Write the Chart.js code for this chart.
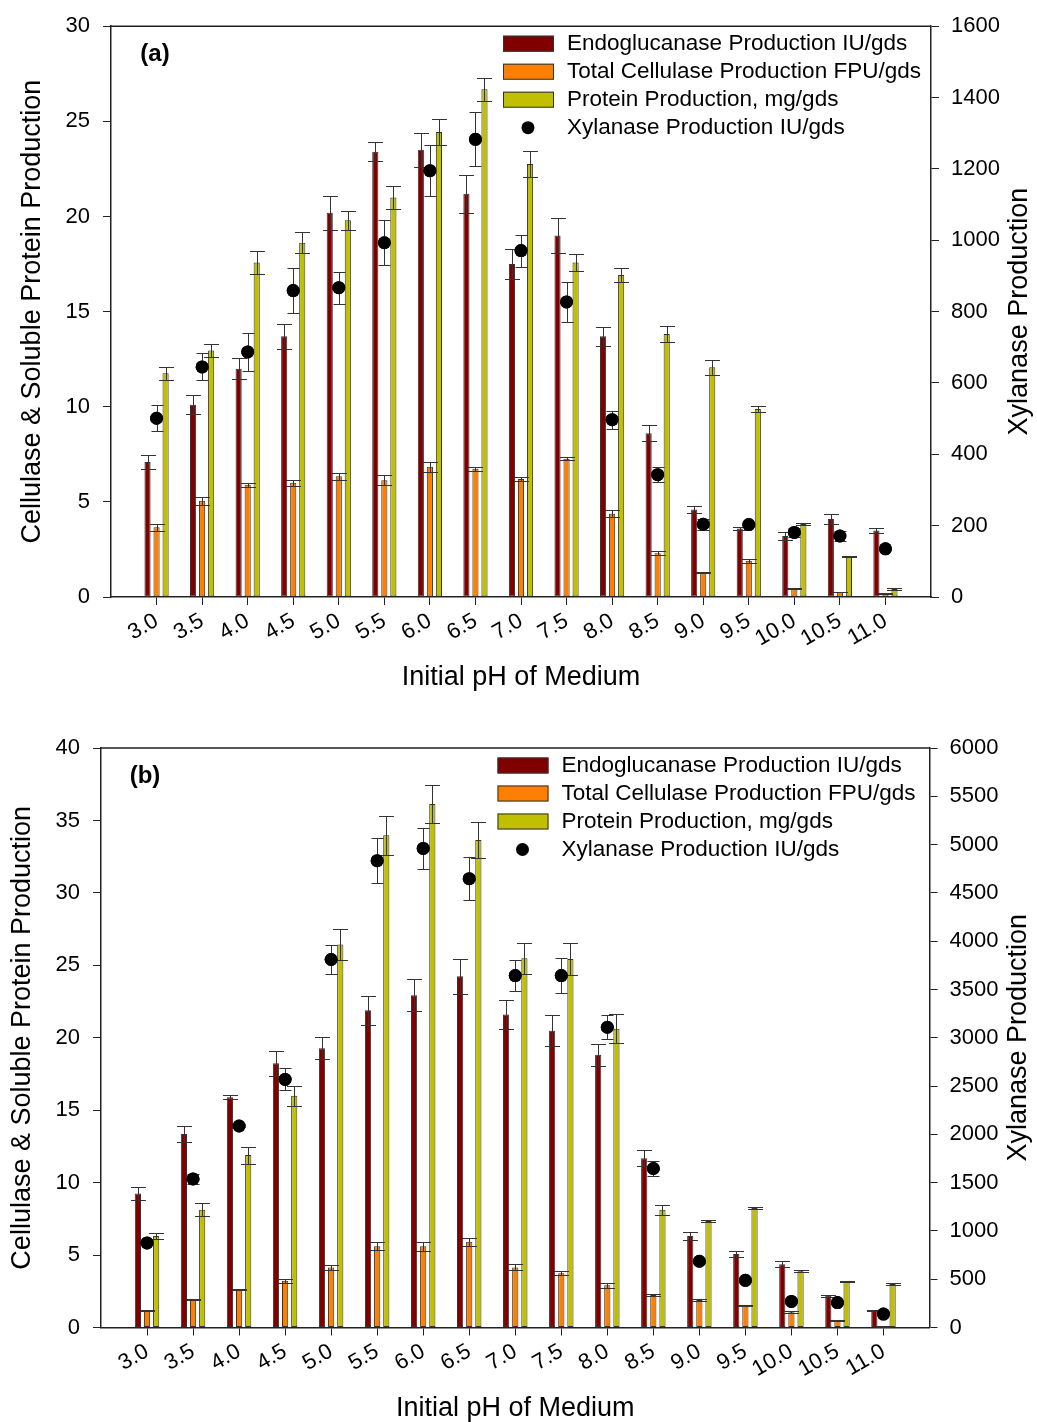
<!DOCTYPE html>
<html>
<head>
<meta charset="utf-8">
<title>Effect of initial pH on enzyme production</title>
<script src="https://cdn.jsdelivr.net/npm/chart.js@4.4.1/dist/chart.umd.min.js"></script>
<style>
  body { margin: 0; background: #fff; }
  .panel { width: 1037px; height: 711px; }
</style>
</head>
<body>
<div class="panel"><canvas id="chartA" width="1037" height="711"></canvas></div>
<div class="panel"><canvas id="chartB" width="1037" height="711"></canvas></div>
<script>
// initial pH levels on the x axis
const phLevels = [3.0, 3.5, 4.0, 4.5, 5.0, 5.5, 6.0, 6.5, 7.0, 7.5, 8.0, 8.5, 9.0, 9.5, 10.0, 10.5, 11.0];

// panel (a)
const endoA    = [7.1, 10.1, 12.0, 13.7, 20.2, 23.4, 23.5, 21.2, 17.5, 19.0, 13.7, 8.6, 4.6, 3.6, 3.2, 4.1, 3.5];
const endoAErr = [0.35, 0.5, 0.55, 0.65, 0.9, 0.5, 0.9, 1.0, 0.8, 0.9, 0.5, 0.42, 0.2, 0.1, 0.2, 0.25, 0.15];
const fpuA     = [3.66, 5.06, 5.9, 6.0, 6.34, 6.14, 6.84, 6.74, 6.2, 7.26, 4.38, 2.3, 1.3, 1.9, 0.44, 0.26, 0.2];
const fpuAErr  = [0.2, 0.2, 0.1, 0.15, 0.2, 0.25, 0.25, 0.1, 0.1, 0.08, 0.2, 0.1, 0.03, 0.12, 0.02, 0.02, 0.03];
const protA    = [11.76, 12.96, 17.58, 18.62, 19.8, 21.0, 24.44, 26.68, 22.76, 17.58, 16.92, 13.82, 12.08, 9.88, 3.84, 2.14, 0.42];
const protAErr = [0.35, 0.35, 0.6, 0.55, 0.5, 0.6, 0.7, 0.6, 0.7, 0.45, 0.35, 0.4, 0.4, 0.18, 0.05, 0.03, 0.03];
const xylA     = [501, 645, 687, 859, 867, 993, 1195, 1283, 971, 827, 497, 343, 204, 203, 181, 171, 135];
const xylAErr  = [36, 38, 53, 63, 45, 63, 71, 76, 45, 57, 25, 20, 15, 5, 12, 15, 3];

// panel (b)
const endoB    = [9.25, 13.35, 15.9, 18.24, 19.27, 21.9, 22.94, 24.24, 21.6, 20.49, 18.82, 11.68, 6.32, 5.08, 4.36, 2.19, 1.19];
const endoBErr = [0.45, 0.53, 0.13, 0.87, 0.77, 1.0, 1.1, 1.2, 1.0, 1.05, 0.74, 0.55, 0.3, 0.2, 0.2, 0.06, 0.03];
const fpuB     = [1.19, 1.93, 2.64, 3.22, 4.15, 5.6, 5.6, 5.92, 4.15, 3.75, 2.91, 2.25, 1.9, 1.51, 1.06, 0.48, 0.05];
const fpuBErr  = [0.03, 0.05, 0.03, 0.15, 0.18, 0.27, 0.29, 0.29, 0.2, 0.15, 0.15, 0.05, 0.05, 0.05, 0.05, 0.03, 0.02];
const protB    = [6.32, 8.12, 11.9, 15.99, 26.43, 33.97, 36.14, 33.65, 25.48, 25.43, 20.62, 8.12, 7.35, 8.25, 3.89, 3.17, 3.01];
const protBErr = [0.2, 0.45, 0.58, 0.69, 1.06, 1.35, 1.32, 1.24, 1.08, 1.13, 1.0, 0.37, 0.05, 0.05, 0.05, 0.05, 0.05];
const xylB     = [876, 1538, 2086, 2569, 3810, 4833, 4960, 4647, 3644, 3644, 3109, 1646, 686, 488, 270, 258, 139];
const xylBErr  = [15, 50, 10, 115, 150, 235, 215, 225, 165, 180, 125, 75, 15, 10, 10, 10, 5];

const FONT = "'Liberation Sans', Arial, Helvetica, sans-serif";
Chart.defaults.font.family = FONT;
Chart.defaults.color = '#000';

const AXIS = '#222';

// vertical error bars with caps for every dataset carrying an `errors` array;
// the point dataset is redrawn afterwards so the dots sit over their whiskers
const errorBarPlugin = {
  id: 'errorBars',
  afterDatasetsDraw(chart) {
    const ctx = chart.ctx;
    ctx.save();
    ctx.strokeStyle = '#333';
    ctx.lineWidth = 1;
    chart.data.datasets.forEach((ds, i) => {
      if (!ds.errors) return;
      const meta = chart.getDatasetMeta(i);
      const yScale = chart.scales[meta.yAxisID];
      const half = ds.capWidth / 2;
      meta.data.forEach((el, j) => {
        const v = ds.data[j].y, e = ds.errors[j];
        const x = Math.round(el.x) + 0.5;
        const yTop = Math.round(yScale.getPixelForValue(v + e)) + 0.5;
        const yBot = Math.round(yScale.getPixelForValue(Math.max(v - e, 0))) + 0.5;
        ctx.beginPath();
        ctx.moveTo(x, yTop); ctx.lineTo(x, yBot);
        ctx.moveTo(x - half, yTop); ctx.lineTo(x + half, yTop);
        ctx.moveTo(x - half, yBot); ctx.lineTo(x + half, yBot);
        ctx.stroke();
      });
    });
    ctx.restore();
    chart.data.datasets.forEach((ds, i) => {
      if (ds.type === 'scatter') chart.getDatasetMeta(i).controller.draw();
    });
  }
};

// top frame line, panel tag, right axis title and the in-plot legend
const panelDecor = {
  id: 'panelDecor',
  afterDraw(chart, args, opts) {
    const { ctx, chartArea } = chart;
    ctx.save();
    ctx.strokeStyle = AXIS;
    ctx.lineWidth = 1.5;
    ctx.beginPath();
    ctx.moveTo(chartArea.left, chartArea.top);
    ctx.lineTo(chartArea.right, chartArea.top);
    ctx.stroke();

    ctx.fillStyle = '#000';
    ctx.textAlign = 'center';
    ctx.textBaseline = 'middle';
    ctx.font = 'bold 24px ' + FONT;
    ctx.fillText(opts.tag, chartArea.left + 44, chartArea.top + 28);

    // legend
    const x0 = chartArea.right - opts.legendRight;
    ctx.font = '22.5px ' + FONT;
    ctx.textAlign = 'left';
    chart.data.datasets.forEach((ds, i) => {
      const cy = chartArea.top + 17.5 + i * 28;
      if (ds.type === 'scatter') {
        ctx.fillStyle = '#000';
        ctx.beginPath();
        ctx.arc(x0 + 25, cy, 6.5, 0, Math.PI * 2);
        ctx.fill();
      } else {
        ctx.fillStyle = ds.backgroundColor;
        ctx.fillRect(x0, cy - 8, 51, 16);
        ctx.strokeStyle = '#333';
        ctx.lineWidth = 1;
        ctx.strokeRect(x0 + 0.5, cy - 7.5, 50, 15);
      }
      ctx.fillStyle = '#000';
      ctx.fillText(ds.label, x0 + 64, cy);
    });

    // right axis title, reading bottom to top like the left one
    ctx.translate(chartArea.right + 89, (chartArea.top + chartArea.bottom) / 2);
    ctx.rotate(-Math.PI / 2);
    ctx.textAlign = 'center';
    ctx.font = '27px ' + FONT;
    ctx.fillText(opts.rightTitle, 0, 0);
    ctx.restore();
  }
};

function points(values) {
  return phLevels.map((x, i) => ({ x: x, y: values[i] }));
}

function barSet(label, values, errors, color) {
  return {
    type: 'bar', label: label, data: points(values), errors: errors, capWidth: 15,
    backgroundColor: color, borderColor: '#333', borderWidth: 1, borderSkipped: false,
    categoryPercentage: 0.595, barPercentage: 0.68, yAxisID: 'y'
  };
}

function makePanel(id, p) {
  return new Chart(document.getElementById(id), {
    type: 'bar',
    data: {
      datasets: [
        barSet('Endoglucanase Production IU/gds', p.endo, p.endoErr, '#800000'),
        barSet('Total Cellulase Production FPU/gds', p.fpu, p.fpuErr, '#FF8000'),
        barSet('Protein Production, mg/gds', p.prot, p.protErr, '#C0C000'),
        {
          type: 'scatter', label: 'Xylanase Production IU/gds', data: points(p.xyl),
          errors: p.xylErr, capWidth: 12, yAxisID: 'y1', order: -1,
          pointRadius: 6.5, pointHoverRadius: 6.5, backgroundColor: '#000', borderColor: '#000', borderWidth: 0
        }
      ]
    },
    options: {
      responsive: false,
      animation: false,
      devicePixelRatio: 1,
      events: [],
      layout: { padding: { top: p.top, left: 0, right: 0, bottom: 0 } },
      plugins: {
        legend: { display: false },
        tooltip: { enabled: false },
        panelDecor: { tag: p.tag, rightTitle: 'Xylanase Production', legendRight: p.legendRight }
      },
      scales: {
        x: {
          type: 'linear', min: 2.5, max: 11.5, offset: false,
          afterBuildTicks: s => { s.ticks = phLevels.map(v => ({ value: v })); },
          afterFit: s => { s.height = p.xHeight; },
          ticks: {
            autoSkip: false, minRotation: 30, maxRotation: 30, padding: 3,
            font: { size: 22 }, callback: v => Number(v).toFixed(1)
          },
          grid: { drawOnChartArea: false, drawTicks: true, tickLength: 8, tickColor: AXIS, offset: false },
          border: { display: true, color: AXIS, width: 1.5 },
          title: {
            display: true, text: 'Initial pH of Medium',
            font: { size: 27, lineHeight: 1 }, padding: { top: 0, bottom: p.xTitlePad }
          }
        },
        y: {
          position: 'left', min: 0, max: p.yMax,
          afterFit: s => { s.width = p.leftW; },
          ticks: { stepSize: 5, padding: 13, autoSkip: false, font: { size: 22 } },
          grid: { drawOnChartArea: false, tickLength: 8, tickColor: AXIS },
          border: { display: true, color: AXIS, width: 1.5 },
          title: {
            display: true, text: 'Cellulase & Soluble Protein Production',
            font: { size: 27, lineHeight: 1 }, padding: { top: p.yTitlePad, bottom: 0 }
          }
        },
        y1: {
          position: 'right', min: 0, max: p.y1Max,
          afterFit: s => { s.width = p.rightW; },
          ticks: { stepSize: p.y1Step, padding: 12, autoSkip: false, font: { size: 22 }, callback: v => String(v) },
          grid: { drawOnChartArea: false, tickLength: 8, tickColor: AXIS },
          border: { display: true, color: AXIS, width: 1.5 }
        }
      }
    },
    plugins: [errorBarPlugin, panelDecor]
  });
}

makePanel('chartA', {
  tag: '(a)', endo: endoA, endoErr: endoAErr, fpu: fpuA, fpuErr: fpuAErr,
  prot: protA, protErr: protAErr, xyl: xylA, xylErr: xylAErr,
  yMax: 30, y1Max: 1600, y1Step: 200,
  top: 24, leftW: 111, rightW: 106, xHeight: 114, xTitlePad: 20, yTitlePad: 19, legendRight: 428
});

makePanel('chartB', {
  tag: '(b)', endo: endoB, endoErr: endoBErr, fpu: fpuB, fpuErr: fpuBErr,
  prot: protB, protErr: protBErr, xyl: xylB, xylErr: xylBErr,
  yMax: 40, y1Max: 6000, y1Step: 500,
  top: 37, leftW: 101, rightW: 107.5, xHeight: 94.5, xTitlePad: 0, yTitlePad: 9, legendRight: 432
});
</script>
</body>
</html>
